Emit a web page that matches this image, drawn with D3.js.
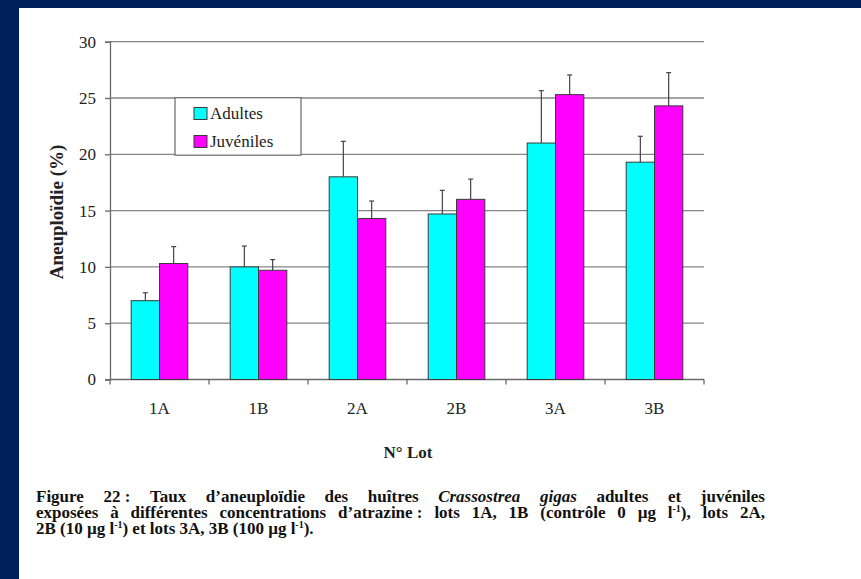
<!DOCTYPE html>
<html>
<head>
<meta charset="utf-8">
<script src="https://cdn.jsdelivr.net/npm/d3@7"></script>
<style>
  body { margin: 0; background: #00205b; }
  svg { display: block; }
  svg text { font-family: "Liberation Serif", "Times New Roman", Times, serif; }
</style>
</head>
<body>
<div id="chart"></div>
<script>
// donnees
const lots = ["1A", "1B", "2A", "2B", "3A", "3B"];
const series = ["Adultes", "Juvéniles"];
const adultes = [7.0, 10.0, 18.0, 14.7, 21.0, 19.3];
const adultesErr = [0.7, 1.85, 3.15, 2.1, 4.65, 2.3];
const juveniles = [10.3, 9.7, 14.3, 16.0, 25.3, 24.3];
const juvenilesErr = [1.5, 0.95, 1.55, 1.8, 1.75, 2.95];
const yTicks = [0, 5, 10, 15, 20, 25, 30];
const couleurs = ["#00ffff", "#ff00ff"];

const width = 861;
const height = 579;
const serif = "Liberation Serif";

const svg = d3.select("#chart").append("svg")
    .attr("width", width)
    .attr("height", height);

// fond bleu + page blanche
svg.append("rect").attr("width", width).attr("height", height).attr("fill", "#00205b");
svg.append("rect").attr("x", 19).attr("y", 8).attr("width", width - 19).attr("height", height - 8).attr("fill", "white");

// echelles
const x = d3.scaleBand().domain(lots).range([110, 704]).padding(0);
const xSub = d3.scaleBand().domain(series).range([x.bandwidth() * 0.214, x.bandwidth() * 0.786]).padding(0);
const y = d3.scaleLinear().domain([0, 30]).range([379.5, 41.7]);

// grille horizontale
svg.append("g")
    .selectAll("line")
    .data(yTicks.filter(d => d > 0))
    .enter().append("line")
    .attr("x1", 110).attr("x2", 704)
    .attr("y1", d => y(d)).attr("y2", d => y(d))
    .attr("stroke", "#858585")
    .attr("stroke-width", 1.3);

// axe Y
const yAxis = svg.append("g")
    .attr("transform", "translate(110,0)")
    .call(d3.axisLeft(y).tickValues(yTicks).tickSize(5).tickPadding(9));
yAxis.attr("font-family", null);
yAxis.select(".domain").attr("stroke", "#6a6a6a").attr("stroke-width", 1.3);
yAxis.selectAll(".tick line").attr("stroke", "#6a6a6a").attr("stroke-width", 1.3);
yAxis.selectAll("text")
    .style("font-family", serif)
    .style("font-size", "17px")
    .attr("fill", "#222");

// axe X (ticks aux limites des categories)
const xLine = svg.append("g");
xLine.append("line")
    .attr("x1", 110).attr("x2", 704)
    .attr("y1", y(0)).attr("y2", y(0))
    .attr("stroke", "#6a6a6a").attr("stroke-width", 1.3);
xLine.selectAll("line.tick")
    .data(lots.concat(["fin"]))
    .enter().append("line")
    .attr("class", "tick")
    .attr("x1", (d, i) => i < lots.length ? x(d) : x.range()[1])
    .attr("x2", (d, i) => i < lots.length ? x(d) : x.range()[1])
    .attr("y1", y(0)).attr("y2", y(0) + 5)
    .attr("stroke", "#6a6a6a").attr("stroke-width", 1.3);
xLine.selectAll("text")
    .data(lots)
    .enter().append("text")
    .attr("x", d => x(d) + x.bandwidth() / 2)
    .attr("y", 414)
    .attr("text-anchor", "middle")
    .style("font-family", serif)
    .style("font-size", "17px")
    .attr("fill", "#222")
    .text(d => d);

// barres
const valeurs = [adultes, juveniles];
const erreurs = [adultesErr, juvenilesErr];
const barData = [];
lots.forEach((lot, i) => {
    series.forEach((s, k) => {
        barData.push({ lot: lot, serie: s, k: k, v: valeurs[k][i], e: erreurs[k][i] });
    });
});

// barres d'erreur (vers le haut seulement)
const err = svg.append("g").selectAll("g")
    .data(barData)
    .enter().append("g");
err.append("line")
    .attr("x1", d => x(d.lot) + xSub(d.serie) + xSub.bandwidth() / 2)
    .attr("x2", d => x(d.lot) + xSub(d.serie) + xSub.bandwidth() / 2)
    .attr("y1", d => y(d.v))
    .attr("y2", d => y(d.v + d.e))
    .attr("stroke", "#444").attr("stroke-width", 1.2);
err.append("line")
    .attr("x1", d => x(d.lot) + xSub(d.serie) + xSub.bandwidth() / 2 - 2.5)
    .attr("x2", d => x(d.lot) + xSub(d.serie) + xSub.bandwidth() / 2 + 2.5)
    .attr("y1", d => y(d.v + d.e))
    .attr("y2", d => y(d.v + d.e))
    .attr("stroke", "#444").attr("stroke-width", 1.2);

svg.append("g").selectAll("rect")
    .data(barData)
    .enter().append("rect")
    .attr("x", d => x(d.lot) + xSub(d.serie))
    .attr("y", d => y(d.v))
    .attr("width", xSub.bandwidth())
    .attr("height", d => y(0) - y(d.v))
    .attr("fill", d => couleurs[d.k])
    .attr("stroke", "#3a3a3a")
    .attr("stroke-width", 1);

// titres des axes
svg.append("text")
    .attr("transform", "translate(63,212) rotate(-90)")
    .attr("text-anchor", "middle")
    .style("font-family", serif)
    .style("font-size", "19px")
    .style("font-weight", "bold")
    .attr("fill", "#222")
    .text("Aneuploïdie (%)");

svg.append("text")
    .attr("x", 408)
    .attr("y", 458)
    .attr("text-anchor", "middle")
    .style("font-family", serif)
    .style("font-size", "17px")
    .style("font-weight", "bold")
    .attr("fill", "#222")
    .text("N° Lot");

// legende
const legend = svg.append("g");
legend.append("rect")
    .attr("x", 175).attr("y", 97.7)
    .attr("width", 126).attr("height", 57.5)
    .attr("fill", "white")
    .attr("stroke", "#6a6a6a").attr("stroke-width", 1.2);
const legItem = legend.selectAll("g")
    .data(series)
    .enter().append("g")
    .attr("transform", (d, i) => "translate(194," + (107.5 + i * 28) + ")");
legItem.append("rect")
    .attr("width", 13).attr("height", 12)
    .attr("fill", (d, i) => couleurs[i])
    .attr("stroke", "#3a3a3a").attr("stroke-width", 1);
legItem.append("text")
    .attr("x", 16)
    .attr("y", 11.5)
    .style("font-family", serif)
    .style("font-size", "17px")
    .attr("fill", "#222")
    .text(d => d);

// legende de la figure (texte justifie)
const captionLines = [
    { y: 502, justify: true, words: [
        [{ t: "Figure" }], [{ t: "22\u00a0:" }], [{ t: "Taux" }], [{ t: "d’aneuploïdie" }], [{ t: "des" }],
        [{ t: "huîtres" }], [{ t: "Crassostrea", it: true }], [{ t: "gigas", it: true }], [{ t: "adultes" }],
        [{ t: "et" }], [{ t: "juvéniles" }]
    ]},
    { y: 518, justify: true, words: [
        [{ t: "exposées" }], [{ t: "à" }], [{ t: "différentes" }], [{ t: "concentrations" }],
        [{ t: "d’atrazine\u00a0:" }], [{ t: "lots" }], [{ t: "1A," }], [{ t: "1B" }], [{ t: "(contrôle" }],
        [{ t: "0" }], [{ t: "µg" }], [{ t: "l" }, { t: "-1", sup: true }, { t: ")," }], [{ t: "lots" }], [{ t: "2A," }]
    ]},
    { y: 534, justify: false, words: [
        [{ t: "2B" }], [{ t: "(10" }], [{ t: "µg" }], [{ t: "l" }, { t: "-1", sup: true }, { t: ")" }], [{ t: "et" }],
        [{ t: "lots" }], [{ t: "3A," }], [{ t: "3B" }], [{ t: "(100" }], [{ t: "µg" }],
        [{ t: "l" }, { t: "-1", sup: true }, { t: ")." }]
    ]}
];
const capLeft = 36, capRight = 765;
const caption = svg.append("g")
    .style("font-family", serif)
    .style("font-size", "17px")
    .style("font-weight", "bold")
    .attr("fill", "#111");

captionLines.forEach(line => {
    const nodes = line.words.map(word => {
        const t = caption.append("text").attr("y", line.y);
        let shift = 0;
        word.forEach(seg => {
            const ts = t.append("tspan").text(seg.t);
            if (seg.it) ts.style("font-style", "italic");
            if (seg.sup) {
                ts.attr("dy", -6).style("font-size", "10px");
                shift = 6;
            } else if (shift) {
                ts.attr("dy", shift);
                shift = 0;
            }
        });
        return t;
    });
    const widths = nodes.map(n => n.node().getComputedTextLength());
    const total = d3.sum(widths);
    const gap = line.justify ? (capRight - capLeft - total) / (nodes.length - 1) : 4.2;
    let cx = capLeft;
    nodes.forEach((n, i) => {
        n.attr("x", cx);
        cx += widths[i] + gap;
    });
});
</script>
</body>
</html>
